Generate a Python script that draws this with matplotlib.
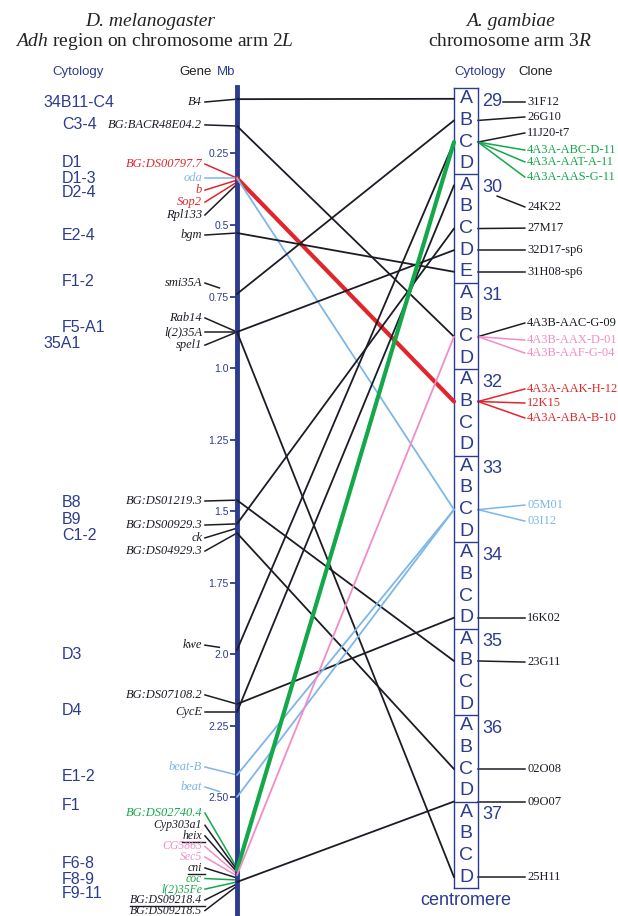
import matplotlib
matplotlib.use("Agg")
import matplotlib.pyplot as plt
from matplotlib.patches import ConnectionPatch

plt.rcParams['font.family'] = ['Liberation Sans', 'DejaVu Sans']
plt.rcParams['mathtext.fontset'] = 'custom'
plt.rcParams['mathtext.rm'] = 'Liberation Serif'
plt.rcParams['mathtext.it'] = 'Liberation Serif:italic'

NAVY = '#2c3c8e'
COLS = {'k': '#1c1c26', 'red': '#e0262c', 'blue': '#7db6e8',
        'green': '#14a84a', 'pink': '#f28cc6'}
SERIF = ['Liberation Serif', 'DejaVu Serif']

# D. melanogaster cytology (left column)
dm_cyto = ['34B11-C4', 'C3-4', 'D1', 'D1-3', 'D2-4', 'E2-4', 'F1-2', 'F5-A1', '35A1',
           'B8', 'B9', 'C1-2', 'D3', 'D4', 'E1-2', 'F1', 'F6-8', 'F8-9', 'F9-11']
dm_cyto_mb = [0.07, 0.15, 0.283, 0.336, 0.385, 0.535, 0.699, 0.86, 0.913,
              1.469, 1.531, 1.584, 2.003, 2.196, 2.43, 2.531, 2.731, 2.787, 2.836]
dm_major = ['34B11-C4', '35A1']

# genes: label, where the leader meets the chromosome (Mb), label row (Mb), colour
genes = ['B4', 'BG:BACR48E04.2', 'BG:DS00797.7', 'oda', 'b', 'Sop2', 'Rpl133', 'bgm',
         'smi35A', 'Rab14', 'l(2)35A', 'spel1', 'BG:DS01219.3', 'BG:DS00929.3', 'ck',
         'BG:DS04929.3', 'kwe', 'BG:DS07108.2', 'CycE', 'beat-B', 'beat',
         'BG:DS02740.4', 'Cyp303a1', 'heix', 'CG5863', 'Sec5', 'cni', 'coc',
         'l(2)35Fe', 'BG:DS09218.4', 'BG:DS09218.5']
gene_mb = [0.06, 0.154, 0.336, 0.336, 0.343, 0.35, 0.357, 0.528,
           0.741, 0.874, 0.874, 0.874, 1.462, 1.545, 1.56,
           1.577, 1.986, 2.175, 2.203, 2.423, 2.50,
           2.748, 2.755, 2.762, 2.769, 2.776, 2.783, 2.79,
           2.797, 2.804, 2.811]
gene_label_mb = [0.07, 0.15, 0.287, 0.336, 0.378, 0.42, 0.465, 0.535,
                 0.703, 0.825, 0.874, 0.92, 1.465, 1.549, 1.594,
                 1.64, 1.969, 2.143, 2.203, 2.395, 2.465,
                 2.556, 2.599, 2.636, 2.673, 2.71, 2.748, 2.785,
                 2.822, 2.86, 2.897]
gene_color = ['k', 'k', 'red', 'blue', 'red', 'red', 'k', 'k',
              'k', 'k', 'k', 'k', 'k', 'k', 'k',
              'k', 'k', 'k', 'k', 'blue', 'blue',
              'green', 'k', 'k', 'pink', 'pink', 'k', 'green',
              'green', 'k', 'k']
short_leaders = ['smi35A', 'kwe', 'beat']
underlined = ['heix', 'cni', 'BG:DS09218.4']

mb_ticks = [0.25, 0.5, 0.75, 1.0, 1.25, 1.5, 1.75, 2.0, 2.25, 2.5]
mb_tick_labels = ['0.25', '0.5', '0.75', '1.0', '1.25', '1.5', '1.75', '2.0', '2.25', '2.50']

# A. gambiae 3R divisions and sub-bands
ag_div = ['29', '30', '31', '32', '33', '34', '35', '36', '37']
ag_sub = ['ABCD', 'ABCDE', 'ABCD', 'ABCD', 'ABCD', 'ABCD', 'ABCD', 'ABCD', 'ABCD']
band_names = [d + s for d, subs in zip(ag_div, ag_sub) for s in subs]

# orthology links: Mb on 2L -> band on 3R
link_mb = [0.06, 0.154, 0.336, 0.336, 0.528, 0.741, 0.874, 0.874, 1.462, 1.545,
           1.577, 1.986, 2.175, 2.203, 2.423, 2.50, 2.755, 2.773, 2.797]
link_band = ['29A', '31C', '32B', '33C', '30E', '29B', '30D', '37D', '35B', '30C',
             '36C', '29C', '34D', '30A', '33C', '33C', '29C', '31C', '37A']
link_color = ['k', 'k', 'red', 'blue', 'k', 'k', 'k', 'k', 'k', 'k',
              'k', 'k', 'k', 'k', 'blue', 'blue', 'green', 'pink', 'k']
link_at_top_edge = ['37A']   # this one meets the 36/37 boundary

# clones: anchor band, label row (in band units), colour
clones = ['31F12', '26G10', '11J20-t7', '4A3A-ABC-D-11', '4A3A-AAT-A-11',
          '4A3A-AAS-G-11', '24K22', '27M17', '32D17-sp6', '31H08-sp6',
          '4A3B-AAC-G-09', '4A3B-AAX-D-01', '4A3B-AAF-G-04', '4A3A-AAK-H-12',
          '12K15', '4A3A-ABA-B-10', '05M01', '03I12', '16K02', '23G11',
          '02O08', '09O07', '25H11']
clone_band = ['29A', '29B', '29C', '29C', '29C', '29C', '30B', '30C', '30D', '30E',
              '31C', '31C', '31C', '32B', '32B', '32B', '33C', '33C', '34D', '35B',
              '36C', '37A', '37D']
clone_label_pos = [0.65, 1.34, 2.08, 2.87, 3.42, 4.12, 5.5, 6.48, 7.5, 8.5,
                   10.87, 11.66, 12.26, 13.92, 14.57, 15.26, 19.29, 20.03, 24.5, 26.55,
                   31.5, 33.0, 36.5]
clone_color = ['k', 'k', 'k', 'green', 'green', 'green', 'k', 'k', 'k', 'k',
               'k', 'pink', 'pink', 'red', 'red', 'red', 'blue', 'blue', 'k', 'k',
               'k', 'k', 'k']


W, H = 618, 916
fig = plt.figure(figsize=(W / 100, H / 100), dpi=100)


def box(x0, y0, x1, y1):
    return [x0 / W, 1 - y1 / H, (x1 - x0) / W, (y1 - y0) / H]


def px(x, y):
    return x / W, 1 - y / H


def band_y(name):
    i = band_names.index(name)
    if name in link_at_top_edge:
        return i
    return i + 0.5


# left chromosome as a y axis in Mb
axL = fig.add_axes(box(237, 87, 455, 916))
axL.set_xlim(0, 1)
axL.set_ylim(2.916, 0.0175)
axL.patch.set_alpha(0)
for s in ['top', 'right', 'bottom']:
    axL.spines[s].set_visible(False)
axL.spines['left'].set_color(NAVY)
axL.spines['left'].set_linewidth(3.5)
axL.spines['left'].set_zorder(5)
axL.set_xticks([])
axL.set_yticks(mb_ticks)
axL.set_yticklabels(mb_tick_labels)
axL.tick_params(axis='y', length=5, width=1.3, color=NAVY, labelcolor=NAVY,
                labelsize=7.5, pad=1)

# right chromosome: box of bands
axR = fig.add_axes(box(454, 88, 478, 888))
axR.set_xlim(0, 1)
axR.set_ylim(len(band_names), 0)
axR.set_xticks([])
axR.set_yticks([])
for s in axR.spines.values():
    s.set_color(NAVY)
    s.set_linewidth(1.0)

start = 0
for d, subs in zip(ag_div, ag_sub):
    if start > 0:
        axR.axhline(start, color=NAVY, lw=1.0)
    axR.text(1.17, start + 0.62, d, ha='left', va='center', fontsize=13, color=NAVY,
             clip_on=False)
    for j, s in enumerate(subs):
        axR.text(0.5, start + j + 0.5, s, ha='center', va='center', fontsize=14,
                 color=NAVY)
    start += len(subs)

# orthology links
for mb, band, c in zip(link_mb, link_band, link_color):
    lw = 3.0 if c in ('red', 'green') else 1.3
    con = ConnectionPatch(xyA=(0, mb), coordsA=axL.transData,
                          xyB=(0, band_y(band)), coordsB=axR.transData,
                          color=COLS[c], lw=lw, zorder=2)
    fig.add_artist(con)

# gene labels and leaders
fig.canvas.draw()
renderer = fig.canvas.get_renderer()
for g, mb, lmb, c in zip(genes, gene_mb, gene_label_mb, gene_color):
    fs = 8.5 if lmb > 2.58 else 9   # the crowded F6-F11 cluster
    t = axL.text(-0.16, lmb, g, ha='right', va='center', fontsize=fs,
                 family=SERIF, style='italic', color=COLS[c], clip_on=False)
    x0, y0 = -0.147, lmb
    x1, y1 = 0, mb
    if g in short_leaders:
        x1, y1 = x0 + 0.45 * (x1 - x0), y0 + 0.45 * (y1 - y0)
    axL.plot([x0, x1], [y0, y1], color=COLS[c], lw=1.1, clip_on=False, zorder=3)
    if g in underlined:
        bb = t.get_window_extent(renderer).transformed(axL.transData.inverted())
        axL.plot([bb.x0, x0], [lmb + 0.02, lmb + 0.02], color=COLS[c], lw=1.0,
                 clip_on=False)

# cytology labels
for name, mb in zip(dm_cyto, dm_cyto_mb):
    x = -0.89 if name in dm_major else -0.803
    axL.text(x, mb, name, ha='left', va='center', fontsize=11.5, color=NAVY,
             clip_on=False)

# clone labels and leaders
for cl, band, pos, c in zip(clones, clone_band, clone_label_pos, clone_color):
    by = band_y(band)
    if cl == '31F12':
        x0, y0 = 2.05, pos
    elif cl == '24K22':
        x0, y0 = 1.8, 5.0
    else:
        x0, y0 = 1.0, by
    axR.plot([x0, 2.95], [y0, pos], color=COLS[c], lw=1.1, clip_on=False)
    axR.text(3.05, pos, cl, ha='left', va='center', fontsize=9, family=SERIF,
             color=COLS[c], clip_on=False)

axR.text(0.5, 37.6, 'centromere', ha='center', va='center', fontsize=13,
         color=NAVY, clip_on=False)

# titles and column headers
fig.text(*px(150, 22), 'D. melanogaster', ha='center', va='center', fontsize=14,
         family=SERIF, style='italic', color='#222222')
fig.text(*px(154, 41), r'$\it{Adh}$ region on chromosome arm $\it{2L}$', ha='center',
         va='center', fontsize=14, family=SERIF, color='#222222')
fig.text(*px(510, 22), 'A. gambiae', ha='center', va='center', fontsize=14,
         family=SERIF, style='italic', color='#222222')
fig.text(*px(510, 41), r'chromosome arm $\it{3R}$', ha='center', va='center',
         fontsize=14, family=SERIF, color='#222222')

fig.text(*px(78, 72), 'Cytology', ha='center', va='center', fontsize=9.5, color=NAVY)
fig.text(*px(196, 72), 'Gene', ha='center', va='center', fontsize=9.5, color='#222222')
fig.text(*px(226, 72), 'Mb', ha='center', va='center', fontsize=9.5, color=NAVY)
fig.text(*px(480, 72), 'Cytology', ha='center', va='center', fontsize=9.5, color=NAVY)
fig.text(*px(536, 72), 'Clone', ha='center', va='center', fontsize=9.5, color='#222222')

fig.savefig('out.png', dpi=100)
